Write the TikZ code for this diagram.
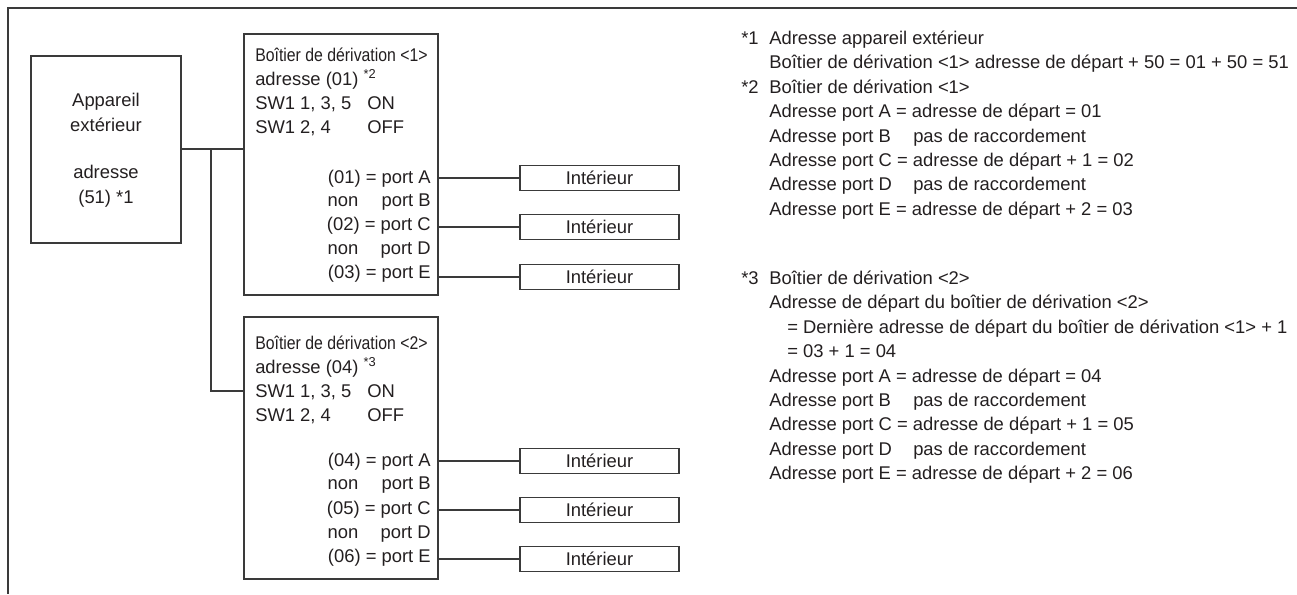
\documentclass[tikz,border=0pt]{standalone}
\usepackage{fontspec}
\setmainfont{Liberation Sans}
\usepackage{graphicx}
\definecolor{linec}{HTML}{3A3A3A}
\definecolor{txtc}{HTML}{231F20}
\newcommand{\ttl}[1]{\scalebox{0.86}[1]{#1}}
\newcommand{\gapB}[1]{\makebox[108pt][l]{#1}}
\begin{document}
\begin{tikzpicture}[x=0.75pt,y=-0.75pt,
  frame/.style={draw=linec, line width=1.1pt},
  box/.style={draw=linec, line width=0.9pt, inner sep=0pt, rectangle},
  wire/.style={draw=linec, line width=0.9pt},
  txt/.style={inner sep=0pt, anchor=base west, font=\fontsize{13.8}{16}\selectfont, text=txtc},
  rtxt/.style={inner sep=0pt, anchor=base east, font=\fontsize{13.8}{16}\selectfont, text=txtc},
  ctxt/.style={inner sep=0pt, anchor=base, font=\fontsize{13.8}{16}\selectfont, text=txtc},
  indoor/.style={box, minimum width=119.25pt, minimum height=18.75pt, font=\fontsize{13.8}{16}\selectfont, text=txtc}
]
\useasboundingbox (0,0) rectangle (1297,594);
\draw[frame] (1297,8) -- (8,8) -- (8,594);

% outdoor unit
\node[box, minimum width=112.5pt, minimum height=140.25pt] (out) at (106,149.5) {};
\node[ctxt] (o1) at (106,106.5) {Appareil};
\node[ctxt] (o2) at (106,131.5) {extérieur};
\node[ctxt] (o3) at (106,178.5) {adresse};
\node[ctxt] (o4) at (106,203.5) {(51) *1};

% branch box 1
\node[box, minimum width=145.5pt, minimum height=195.75pt] (b1) at (341,164.5) {};
\node[txt] (b1t) at (255,61.5) {\ttl{Boîtier de dérivation <1>}};
\node[txt] (b1a) at (255,85.5) {adresse (01) \textsuperscript{*2}};
\node[txt] (b1s1) at (255,109.5) {SW1 1, 3, 5};
\node[txt] (b1s1v) at (367,109.5) {ON};
\node[txt] (b1s2) at (255,133.5) {SW1 2, 4};
\node[txt] (b1s2v) at (367,133.5) {OFF};
\node[rtxt] (b1pA) at (431,183.5) {(01) = port A};
\node[rtxt] (b1pB) at (431,206.5) {\makebox[77.25pt]{non\hfill port B}};
\node[rtxt] (b1pC) at (431,230.5) {(02) = port C};
\node[rtxt] (b1pD) at (431,254.5) {\makebox[77.25pt]{non\hfill port D}};
\node[rtxt] (b1pE) at (431,278.5) {(03) = port E};

% branch box 2
\node[box, minimum width=145.5pt, minimum height=196.5pt] (b2) at (341,448) {};
\node[txt] (b2t) at (255,349.5) {\ttl{Boîtier de dérivation <2>}};
\node[txt] (b2a) at (255,373.5) {adresse (04) \textsuperscript{*3}};
\node[txt] (b2s1) at (255,397.5) {SW1 1, 3, 5};
\node[txt] (b2s1v) at (367,397.5) {ON};
\node[txt] (b2s2) at (255,421.5) {SW1 2, 4};
\node[txt] (b2s2v) at (367,421.5) {OFF};
\node[rtxt] (b2pA) at (431,466.5) {(04) = port A};
\node[rtxt] (b2pB) at (431,489.5) {\makebox[77.25pt]{non\hfill port B}};
\node[rtxt] (b2pC) at (431,514.5) {(05) = port C};
\node[rtxt] (b2pD) at (431,538.5) {\makebox[77.25pt]{non\hfill port D}};
\node[rtxt] (b2pE) at (431,562.5) {(06) = port E};

% indoor units
\node[indoor] (i1) at (599.5,178) {Intérieur};
\node[indoor] (i2) at (599.5,227) {Intérieur};
\node[indoor] (i3) at (599.5,277) {Intérieur};
\node[indoor] (i4) at (599.5,461) {Intérieur};
\node[indoor] (i5) at (599.5,510) {Intérieur};
\node[indoor] (i6) at (599.5,559) {Intérieur};

% wiring
\coordinate (j) at (211,149);
\coordinate (j2) at (244,391);
\draw[wire] (out.east |- j) -- (b1.west |- j);
\draw[wire] (j) |- (j2);
\draw[wire] (b1.east |- i1.west) -- (i1.west);
\draw[wire] (b1.east |- i2.west) -- (i2.west);
\draw[wire] (b1.east |- i3.west) -- (i3.west);
\draw[wire] (b2.east |- i4.west) -- (i4.west);
\draw[wire] (b2.east |- i5.west) -- (i5.west);
\draw[wire] (b2.east |- i6.west) -- (i6.west);

% notes
\node[txt] (n1s) at (741,44.5) {*1};
\node[txt] (n1a) at (769,44.5) {Adresse appareil extérieur};
\node[txt] (n1b) at (769,68.9) {Boîtier de dérivation <1> adresse de départ + 50 = 01 + 50 = 51};
\node[txt] (n2s) at (741,93.3) {*2};
\node[txt] (n2a) at (769,93.3) {Boîtier de dérivation <1>};
\node[txt] (n2b) at (769,117.7) {Adresse port A = adresse de départ = 01};
\node[txt] (n2c) at (769,142.1) {\gapB{Adresse port B}pas de raccordement};
\node[txt] (n2d) at (769,166.5) {Adresse port C = adresse de départ + 1 = 02};
\node[txt] (n2e) at (769,190.9) {\gapB{Adresse port D}pas de raccordement};
\node[txt] (n2f) at (769,215.3) {Adresse port E = adresse de départ + 2 = 03};

\node[txt] (n3s) at (741,284.5) {*3};
\node[txt] (n3a) at (769,284.5) {Boîtier de dérivation <2>};
\node[txt] (n3b) at (769,308.9) {Adresse de départ du boîtier de dérivation <2>};
\node[txt] (n3c) at (787,333.3) {= Dernière adresse de départ du boîtier de dérivation <1> + 1};
\node[txt] (n3d) at (787,357.7) {= 03 + 1 = 04};
\node[txt] (n3e) at (769,382.1) {Adresse port A = adresse de départ = 04};
\node[txt] (n3f) at (769,406.5) {\gapB{Adresse port B}pas de raccordement};
\node[txt] (n3g) at (769,430.9) {Adresse port C = adresse de départ + 1 = 05};
\node[txt] (n3h) at (769,455.3) {\gapB{Adresse port D}pas de raccordement};
\node[txt] (n3i) at (769,479.7) {Adresse port E = adresse de départ + 2 = 06};
\end{tikzpicture}
\end{document}
